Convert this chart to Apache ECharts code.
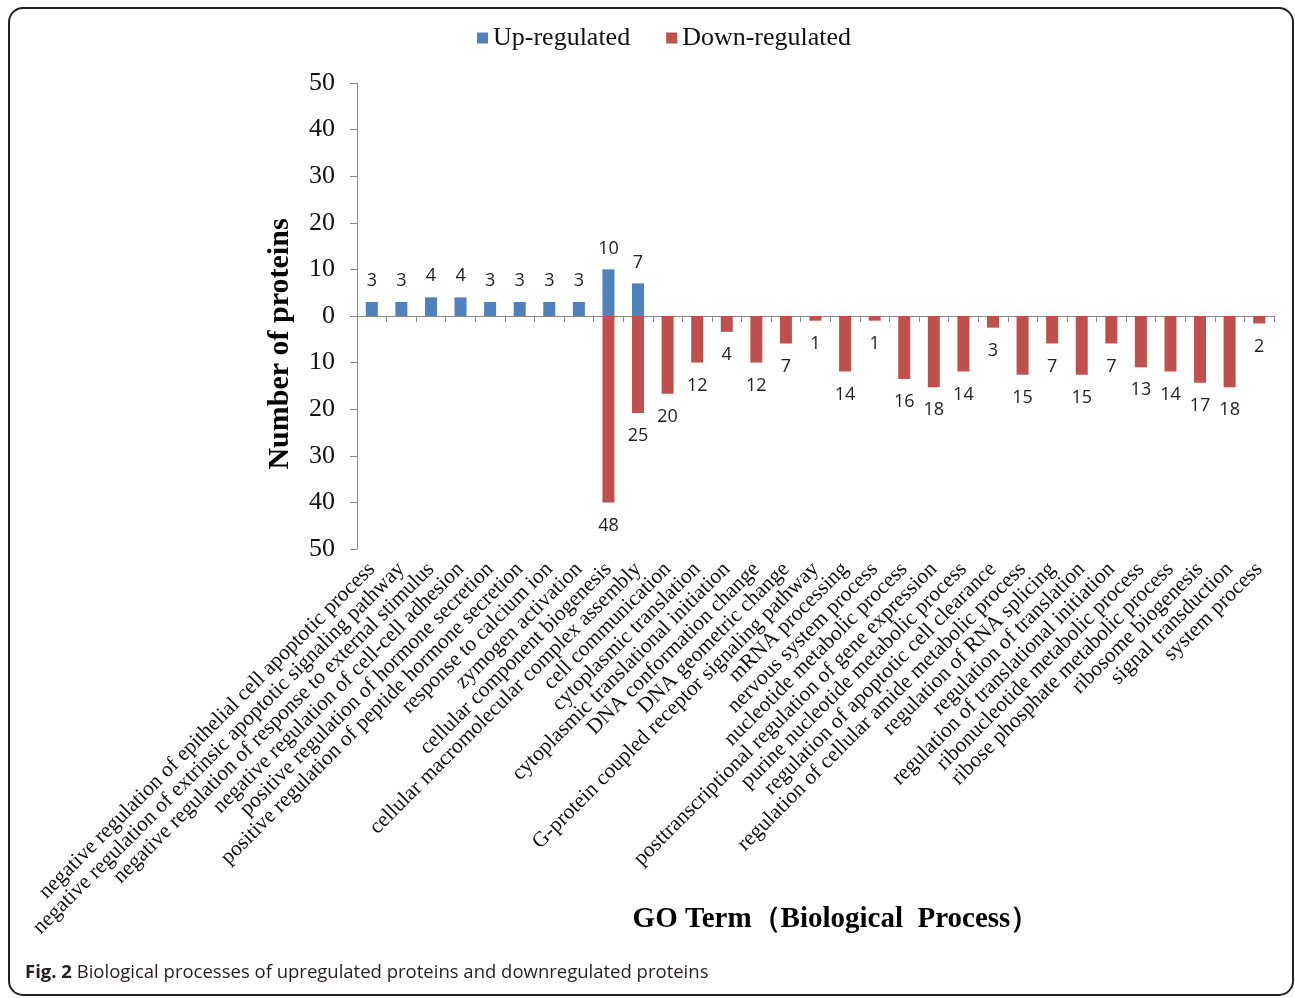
<!DOCTYPE html>
<html>
<head>
<meta charset="utf-8">
<title>GO Term (Biological Process)</title>
<script src="https://cdn.jsdelivr.net/npm/echarts@6/dist/echarts.min.js"></script>
<style>
  html, body { margin: 0; padding: 0; background: #fff; }
  #chart { width: 1295px; height: 998px; }
</style>
</head>
<body>
<div id="chart"></div>
<script>
// GO terms (biological process), left to right
var categories = [
    'negative regulation of epithelial cell apoptotic process',
    'negative regulation of extrinsic apoptotic signaling pathway',
    'negative regulation of response to external stimulus',
    'negative regulation of cell-cell adhesion',
    'positive regulation of hormone secretion',
    'positive regulation of peptide hormone secretion',
    'response to calcium ion',
    'zymogen activation',
    'cellular component biogenesis',
    'cellular macromolecular complex assembly',
    'cell communication',
    'cytoplasmic translation',
    'cytoplasmic translational initiation',
    'DNA conformation change',
    'DNA geometric change',
    'G-protein coupled receptor signaling pathway',
    'mRNA processing',
    'nervous system process',
    'nucleotide metabolic process',
    'posttranscriptional regulation of gene expression',
    'purine nucleotide metabolic process',
    'regulation of apoptotic cell clearance',
    'regulation of cellular amide metabolic process',
    'regulation of RNA splicing',
    'regulation of translation',
    'regulation of translational initiation',
    'ribonucleotide metabolic process',
    'ribose phosphate metabolic process',
    'ribosome biogenesis',
    'signal transduction',
    'system process'
];

// up-regulated protein counts (null = no bar)
var upCounts = [3, 3, 4, 4, 3, 3, 3, 3, 10, 7,
    null, null, null, null, null, null, null, null, null, null, null,
    null, null, null, null, null, null, null, null, null, null];

// down-regulated protein counts as printed on the labels
var downCounts = [null, null, null, null, null, null, null, null,
    48, 25, 20, 12, 4, 12, 7, 1, 14, 1, 16, 18, 14, 3, 15, 7, 15, 7, 13, 14, 17, 18, 2];

// down-regulated bar lengths as drawn in the figure
var downBars = [null, null, null, null, null, null, null, null,
    40, 20.8, 16.7, 10, 3.4, 10, 5.9, 1, 11.9, 1, 13.5, 15.3, 11.9, 2.5, 12.6, 5.9, 12.6, 5.9, 11, 11.9, 14.3, 15.3, 1.6];

var yTicks = { min: -50, max: 50, step: 10 };

var serif = '"Liberation Serif", "Times New Roman", serif';
var sans = '"Open Sans", "Noto Sans", sans-serif';

var myChart = echarts.init(document.getElementById('chart'));

var option = {
    animation: false,
    legend: {
        left: 472,
        top: 20,
        icon: 'rect',
        itemWidth: 11,
        itemHeight: 11,
        itemGap: 36,
        textStyle: { fontFamily: serif, fontSize: 26, color: '#111' },
        data: ['Up-regulated', 'Down-regulated']
    },
    grid: {
        left: 357,
        right: 21,
        top: 83,
        bottom: 449,
        containLabel: false,
        outerBoundsMode: 'none'
    },
    xAxis: {
        type: 'category',
        data: categories,
        axisLine: { onZero: true, lineStyle: { color: '#8a8a8a', width: 1 } },
        axisTick: { show: true, length: 6, lineStyle: { color: '#8a8a8a' } },
        axisLabel: {
            interval: 0,
            rotate: 45,
            margin: 17,
            fontFamily: serif,
            fontSize: 21.5,
            color: '#111'
        },
        splitLine: { show: false }
    },
    yAxis: {
        type: 'value',
        min: yTicks.min,
        max: yTicks.max,
        interval: yTicks.step,
        axisLine: { show: true, lineStyle: { color: '#8a8a8a' } },
        axisTick: { show: true, length: 7, lineStyle: { color: '#8a8a8a' } },
        splitLine: { show: false },
        axisLabel: {
            margin: 22,
            fontFamily: serif,
            fontSize: 26,
            color: '#111',
            formatter: function (value) {
                return Math.abs(value);
            }
        }
    },
    series: [{
        name: 'Up-regulated',
        type: 'bar',
        barWidth: 12,
        barGap: '-100%',
        itemStyle: { color: '#4f81bd' },
        label: {
            show: true,
            position: 'top',
            distance: 12,
            fontFamily: sans,
            fontSize: 18,
            color: '#222'
        },
        data: upCounts.map(function (v) { return v == null ? '-' : v; })
    }, {
        name: 'Down-regulated',
        type: 'bar',
        barWidth: 12,
        barGap: '-100%',
        itemStyle: { color: '#c0504d' },
        label: {
            show: true,
            position: 'bottom',
            distance: 14,
            fontFamily: sans,
            fontSize: 18,
            color: '#222',
            formatter: function (p) {
                return downCounts[p.dataIndex];
            }
        },
        data: downBars.map(function (v) { return v == null ? '-' : -v; })
    }],
    graphic: [{
        type: 'rect',
        shape: { x: 9, y: 8, width: 1284, height: 987, r: 14 },
        style: { fill: 'none', stroke: '#222', lineWidth: 2 },
        silent: true
    }, {
        type: 'text',
        x: 280,
        y: 344,
        rotation: Math.PI / 2,
        style: {
            text: 'Number of proteins',
            fontFamily: serif,
            fontWeight: 'bold',
            fontSize: 30,
            fill: '#000',
            align: 'center',
            verticalAlign: 'middle'
        }
    }, {
        type: 'text',
        x: 836,
        y: 920,
        style: {
            text: 'GO Term（Biological  Process）',
            fontFamily: serif,
            fontWeight: 'bold',
            fontSize: 29,
            fill: '#000',
            align: 'center',
            verticalAlign: 'middle'
        }
    }, {
        type: 'text',
        x: 25,
        y: 973,
        style: {
            text: '{b|Fig. 2} Biological processes of upregulated proteins and downregulated proteins',
            fontFamily: sans,
            fontSize: 18.5,
            fill: '#231f20',
            verticalAlign: 'middle',
            rich: {
                b: { fontFamily: sans, fontSize: 18.5, fontWeight: 'bold', fill: '#231f20' }
            }
        }
    }]
};

myChart.setOption(option);
</script>
</body>
</html>
